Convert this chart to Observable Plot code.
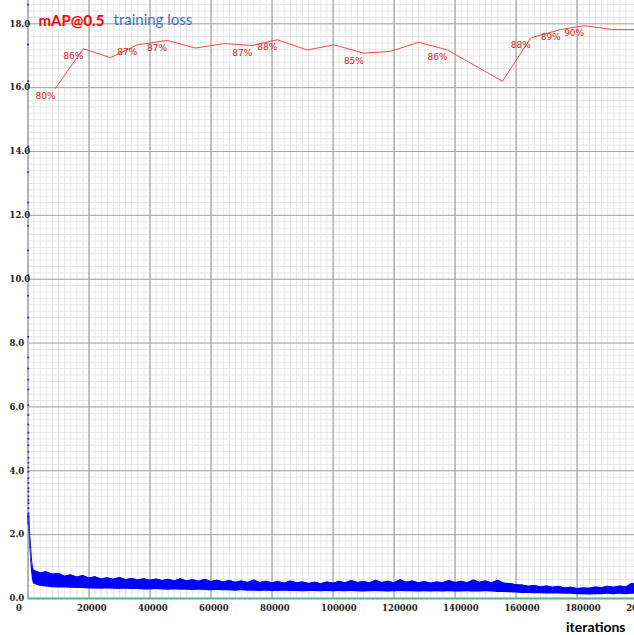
<!DOCTYPE html>
<html>
<head>
<meta charset="utf-8">
<script src="https://cdn.jsdelivr.net/npm/d3@7"></script>
<script src="https://cdn.jsdelivr.net/npm/@observablehq/plot@0.6"></script>
<style>
  html, body { margin: 0; padding: 0; background: #fff; }
  #chart svg { display: block; }
</style>
</head>
<body>
<div id="chart"></div>
<script>
// ---- Data ----
// mAP@0.5 checkpoints (iteration, mAP %)
const mapIters  = [9000, 18100, 27000, 35800, 45600, 54900, 64200, 73500, 81700, 91500, 100300, 110100, 118900, 128100, 137500, 155500, 164800, 174600, 182300, 191600, 200000];
const mapValues = [79.9, 86.1, 84.7, 86.7, 87.4, 86.2, 86.9, 86.6, 87.5, 85.9, 86.7, 85.4, 85.7, 87.1, 85.9, 81.0, 87.8, 89.1, 89.7, 89.1, 89.1];
const mapLabeled = [0, 1, 3, 4, 7, 8, 11, 14, 16, 17, 18];

// very first loss values (first iterations, drawn as points on the left edge)
const earlyLoss = [18.6, 17.35, 16.2, 14.16, 13.35, 12.4, 11.67, 10.9, 10.13, 9.48, 8.8, 8.2, 7.55, 7.2, 6.85, 6.55, 6.05, 5.75, 5.45, 5.2, 5.0, 4.8, 4.6, 4.4, 4.25, 4.1, 3.97, 3.77, 3.62, 3.45, 3.35, 3.2, 3.08, 2.98, 2.83, 2.67, 2.57];

// steep initial drop of the loss band
const startIters  = [0, 260, 490, 820, 1150, 1470, 1800];
const startTop    = [2.62, 2.62, 2.1, 1.65, 1.2, 0.98, 0.9];
const startBottom = [2.3, 2.3, 1.8, 1.3, 0.85, 0.58, 0.47];

// loss band envelope every 2000 iterations (2000 .. 200000)
const lossIters = d3.range(2000, 200001, 2000);
const lossTop = [
  0.88,0.80,0.84,0.76,0.79,0.70,0.74,0.67,0.72,0.64,
  0.68,0.61,0.65,0.60,0.66,0.59,0.63,0.58,0.62,0.57,
  0.61,0.56,0.60,0.55,0.62,0.55,0.59,0.54,0.60,0.53,
  0.57,0.52,0.56,0.51,0.55,0.50,0.58,0.50,0.54,0.49,
  0.53,0.48,0.55,0.49,0.52,0.47,0.51,0.46,0.52,0.48,
  0.54,0.49,0.56,0.50,0.53,0.49,0.57,0.50,0.54,0.49,
  0.59,0.51,0.55,0.49,0.53,0.48,0.52,0.49,0.56,0.50,
  0.54,0.49,0.58,0.51,0.55,0.49,0.57,0.48,0.47,0.43,
  0.42,0.38,0.41,0.36,0.39,0.35,0.38,0.33,0.35,0.31,
  0.33,0.32,0.36,0.34,0.38,0.35,0.39,0.36,0.48,0.40
];
const lossBottom = [
  0.45,0.38,0.36,0.34,0.33,0.33,0.32,0.31,0.31,0.30,
  0.30,0.29,0.30,0.29,0.28,0.29,0.28,0.28,0.27,0.27,
  0.28,0.27,0.26,0.27,0.26,0.26,0.25,0.26,0.25,0.24,
  0.25,0.24,0.24,0.23,0.24,0.23,0.23,0.22,0.23,0.22,
  0.22,0.23,0.22,0.22,0.21,0.22,0.22,0.21,0.22,0.21,
  0.22,0.21,0.22,0.21,0.20,0.21,0.22,0.21,0.20,0.21,
  0.22,0.21,0.21,0.20,0.21,0.20,0.21,0.20,0.21,0.20,
  0.20,0.21,0.20,0.20,0.21,0.20,0.19,0.19,0.18,0.17,
  0.16,0.16,0.15,0.15,0.14,0.14,0.14,0.13,0.13,0.12,
  0.12,0.11,0.12,0.12,0.13,0.12,0.13,0.12,0.13,0.13
];

// axes
const xTicks = [0, 20000, 40000, 60000, 80000, 100000, 120000, 140000, 160000, 180000, 200000];
const yTicks = [0, 2, 4, 6, 8, 10, 12, 14, 16, 18];
const xMinor = d3.range(0, 200001, 2000);
const yMinor = d3.range(0, 18.81, 0.2);

// ---- Build tables ----
const mapData = mapIters.map((it, i) => ({it, y: mapValues[i] / 5, pct: mapValues[i]}));
const labelData = mapLabeled.map(i => mapData[i]);
const earlyData = earlyLoss.map((v, i) => ({it: i * 5, loss: v}));
const band = startIters.map((it, i) => ({it, hi: startTop[i], lo: startBottom[i]}))
  .concat(lossIters.map((it, i) => ({it, hi: lossTop[i], lo: lossBottom[i]})));

const tickFont = "DejaVu Serif";

const chart = Plot.plot({
  width: 634,
  height: 635,
  marginLeft: 27.5,
  marginRight: 0,
  marginTop: 0,
  marginBottom: 37,
  x: {domain: [0, 198800], axis: null},
  y: {domain: [0, 18.73], axis: null},
  style: {background: "#ffffff"},
  marks: [
    // minor grid
    Plot.ruleX(xMinor, {stroke: "#e6e6e6", strokeWidth: 1}),
    Plot.ruleY(yMinor, {stroke: "#e6e6e6", strokeWidth: 1}),
    // major grid
    Plot.ruleX(xTicks.filter(d => d > 0), {stroke: "#bcbcbc", strokeWidth: 1.8}),
    Plot.ruleY(yTicks.filter(d => d > 0), {stroke: "#a6a6a6", strokeWidth: 1}),
    // axis lines
    Plot.ruleX([0], {stroke: "#b4b4b4", strokeWidth: 2}),
    Plot.ruleY([0], {stroke: "#5fae8c", strokeWidth: 2}),
    // training loss
    Plot.areaY(band, {x: "it", y1: "lo", y2: "hi", fill: "#0000ff", curve: "linear"}),
    Plot.line(band, {x: "it", y: "hi", stroke: "#0000ff", strokeWidth: 1}),
    Plot.dot(earlyData, {x: "it", y: "loss", r: 1, fill: "#2020ff", stroke: null}),
    // mAP line
    Plot.line(mapData, {x: "it", y: "y", stroke: "#ff4444", strokeWidth: 1}),
    Plot.text(labelData, {x: "it", y: "y", text: d => `${Math.round(d.pct)}%`, textAnchor: "end", lineAnchor: "middle", dy: 7.5, fill: "#d42828", fontSize: 9, fontFamily: "DejaVu Sans"}),
    // tick labels
    Plot.text(yTicks, {y: d => d, text: d => d.toFixed(1), frameAnchor: "left", textAnchor: "start", lineAnchor: "middle", dx: -18.5, fill: "#222", fontSize: 8.5, fontWeight: "bold", fontFamily: tickFont}),
    Plot.text(xTicks, {x: d => d, text: d => String(d), frameAnchor: "bottom", textAnchor: "start", lineAnchor: "middle", dx: -12, dy: 9.5, fill: "#222", fontSize: 8.5, fontWeight: "bold", fontFamily: tickFont}),
    // legend & axis title
    Plot.text(["mAP@0.5"], {frameAnchor: "top-left", text: d => d, textAnchor: "start", lineAnchor: "middle", dx: 10.5, dy: 20.5, fill: "#ff0000", fontSize: 15, fontWeight: "bold", fontFamily: "Lato"}),
    Plot.text(["training loss"], {frameAnchor: "top-left", text: d => d, textAnchor: "start", lineAnchor: "middle", dx: 85.5, dy: 20, fill: "#4472c4", fontSize: 15, fontFamily: "Lato"}),
    Plot.text(["iterations"], {frameAnchor: "bottom-right", text: d => d, textAnchor: "end", lineAnchor: "bottom", dx: -9, dy: 33, fill: "#000", fontSize: 14, fontWeight: "bold", fontFamily: "Lato"})
  ]
});
document.getElementById("chart").appendChild(chart);
</script>
</body>
</html>
